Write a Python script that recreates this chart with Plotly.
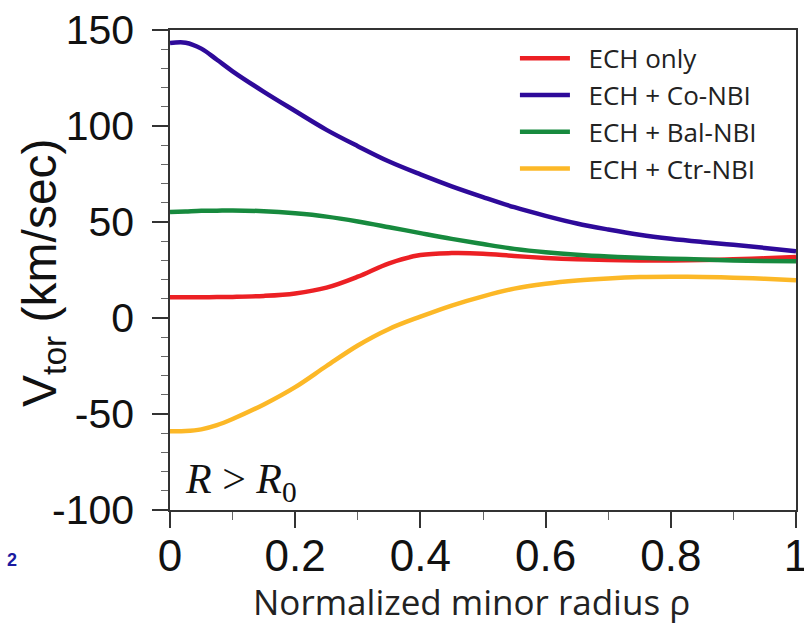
import plotly.graph_objects as go

# Data (normalized minor radius rho, V_tor in km/s)
rho = [0, 0.025, 0.05, 0.075, 0.1, 0.15, 0.2, 0.25, 0.3, 0.35, 0.4, 0.45, 0.5,
       0.55, 0.6, 0.65, 0.7, 0.75, 0.8, 0.85, 0.9, 0.95, 1.0]
v_ech_only = [10.8, 10.8, 10.8, 10.9, 11.0, 11.5, 12.8, 15.8, 21.5, 28.5, 32.8, 33.8, 33.5,
              32.3, 31.3, 30.6, 30.2, 30.0, 30.0, 30.2, 30.6, 31.1, 31.8]
v_co_nbi = [143.2, 143.4, 140.3, 134.5, 128.5, 117.8, 107.8, 98.0, 89.5, 81.5, 74.8, 68.6, 63.0,
            57.7, 53.2, 49.2, 46.1, 43.4, 41.3, 39.6, 38.1, 36.5, 34.7]
v_bal_nbi = [55.2, 55.5, 55.8, 55.9, 56.0, 55.6, 54.5, 52.8, 50.3, 47.3, 44.2, 41.2, 38.5,
             36.0, 34.2, 32.9, 32.0, 31.4, 30.9, 30.5, 30.0, 29.7, 29.5]
v_ctr_nbi = [-59.0, -58.9, -58.0, -55.8, -52.6, -45.0, -36.0, -25.0, -14.3, -5.7, 0.7, 6.5, 11.3,
             15.3, 17.8, 19.5, 20.6, 21.3, 21.5, 21.4, 21.0, 20.4, 19.6]

names = ["ECH only", "ECH + Co-NBI", "ECH + Bal-NBI", "ECH + Ctr-NBI"]
colors = ["#ec2024", "#2e0a9a", "#178a3e", "#fcb827"]
series = [v_ech_only, v_co_nbi, v_bal_nbi, v_ctr_nbi]

x_ticks = [0, 0.2, 0.4, 0.6, 0.8, 1.0]
x_ticktext = ["0", "0.2", "0.4", "0.6", "0.8", "1"]
y_ticks = [-100, -50, 0, 50, 100, 150]
y_ticktext = ["-100", "-50", "0", "50", "100", "150"]

fig = go.Figure()
for ys, nm, c in zip(series, names, colors):
    fig.add_trace(go.Scatter(x=rho, y=ys, mode="lines", name="\u00a0\u00a0" + nm,
                             line=dict(color=c, width=4.5, shape="spline", smoothing=1.0)))

line_common = dict(showline=True, linecolor="#333333", linewidth=1.5, mirror=True,
                   ticks="outside", tickcolor="#333333", tickwidth=1.5, ticklen=16,
                   showgrid=False, zeroline=False, ticklabeloverflow="allow",
                   automargin=False)

fig.update_layout(
    width=804, height=626,
    margin=dict(l=170, r=8, t=30, b=116),
    paper_bgcolor="white", plot_bgcolor="white",
    showlegend=True,
    legend=dict(x=0.551, y=0.99, xanchor="left", yanchor="top",
                bgcolor="rgba(0,0,0,0)", borderwidth=0,
                font=dict(family="Open Sans", size=26, color="#222222"),
                itemwidth=50, tracegroupgap=0),
    xaxis=dict(range=[0, 1], tickvals=x_ticks, ticktext=x_ticktext,
               tickfont=dict(family="Liberation Sans, Arial", size=44, color="#111111"),
               ticklabelstandoff=-10,
               minor=dict(ticks="outside", dtick=0.1, ticklen=8, tickcolor="#666666", tickwidth=1),
               **line_common),
    yaxis=dict(range=[-100, 150], tickvals=y_ticks, ticktext=y_ticktext,
               tickfont=dict(family="Liberation Sans, Arial", size=41, color="#111111"),
               ticklabelstandoff=10,
               minor=dict(ticks="outside", dtick=10, ticklen=7, tickcolor="#666666", tickwidth=1),
               **line_common),
)

fig.add_annotation(text="V<sub>tor</sub> (km/sec)", textangle=-90,
                   xref="paper", yref="paper", x=-0.202, y=0.495,
                   xanchor="center", yanchor="middle", showarrow=False,
                   font=dict(family="Liberation Sans, Arial", size=48, color="#111111"))
fig.add_annotation(text="Normalized minor radius ρ",
                   xref="paper", yref="paper", x=0.482, y=-0.138,
                   xanchor="center", yanchor="top", showarrow=False,
                   font=dict(family="Open Sans", size=35, color="#222222"))
fig.add_annotation(text="<i>R</i> &gt; <i>R</i><sub>0</sub>",
                   xref="paper", yref="paper", x=0.02, y=0.0,
                   xanchor="left", yanchor="bottom", showarrow=False,
                   font=dict(family="Liberation Serif", size=42, color="#111111"))
fig.add_annotation(text="<b>2</b>",
                   xref="paper", yref="paper", x=-0.263, y=-0.105,
                   xanchor="left", yanchor="middle", showarrow=False,
                   font=dict(family="Liberation Sans", size=18, color="#1a1aa0"))

fig.write_html("out.html")
